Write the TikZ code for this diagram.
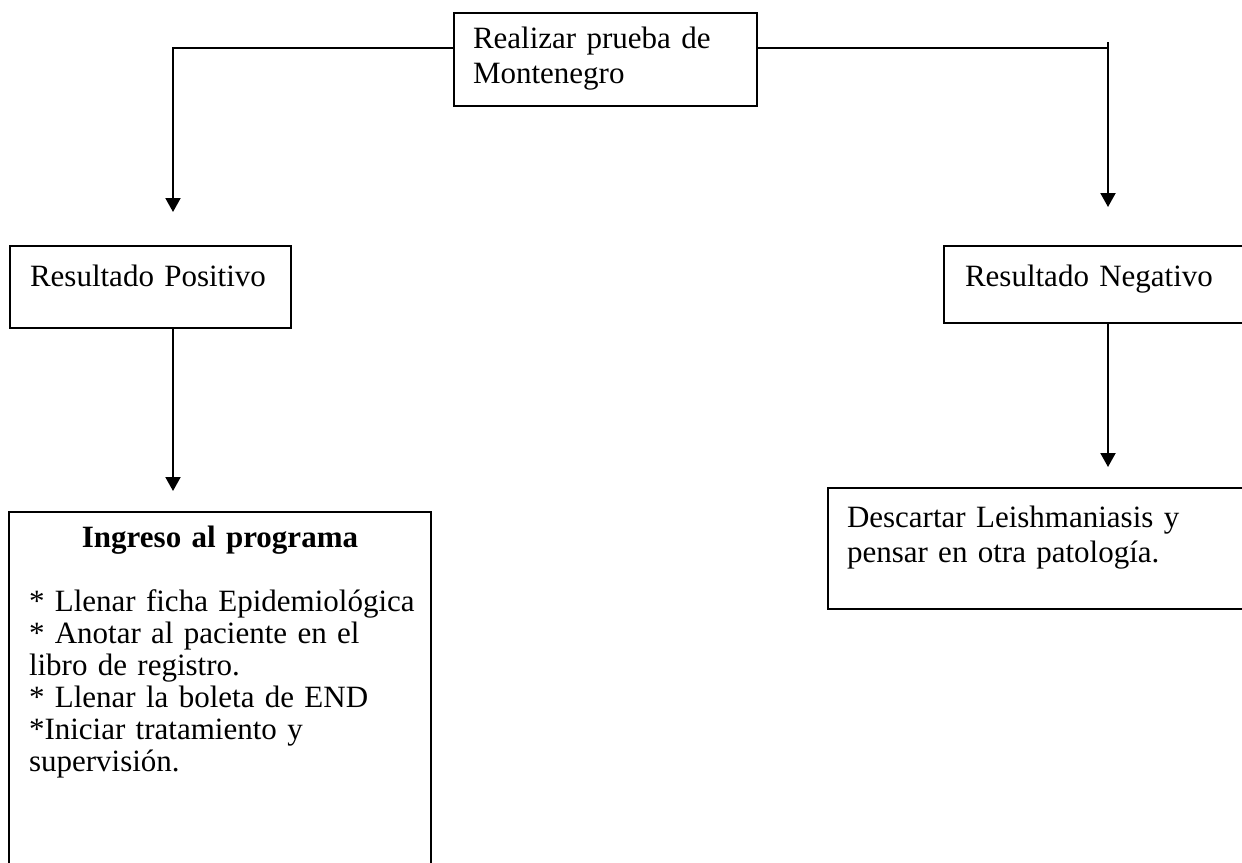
\documentclass[tikz,border=0pt]{standalone}
\usepackage{fontspec}
\setmainfont{Liberation Serif}
\usetikzlibrary{arrows.meta}
\tikzset{
  caja/.style={draw, line width=1.2pt, anchor=north west, align=left, inner ysep=0pt, outer sep=0pt, font=\fontsize{15.5}{17.5}\selectfont},
  flecha/.style={line width=1pt, -{Triangle[width=7.5pt,length=7pt]}}
}
\begin{document}
\begin{tikzpicture}[x=0.5pt,y=-0.5pt]
\useasboundingbox (0,0) rectangle (1242,862);
\clip (0,0) rectangle (1242,862);

\node[caja, inner xsep=9.5pt, text width=132.5pt, text height=17.5pt, text depth=29pt] (prueba) at (454,13) {Realizar prueba de\\Montenegro};
\node[caja, inner xsep=10pt, text width=120.5pt, text height=20pt, text depth=21pt] (positivo) at (10,246) {Resultado Positivo};
\node[caja, inner xsep=10.5pt, text width=179pt, text height=20pt, text depth=18.5pt] (negativo) at (944,246) {Resultado Negativo};
\node[caja, inner xsep=10pt, text width=191pt, text height=17.5pt, text depth=200pt, font=\fontsize{15.5}{16}\selectfont] (ingreso) at (9,512)
  {\makebox[\linewidth]{\bfseries Ingreso al programa}\\[16pt]
   \makebox[\linewidth][l]{* Llenar ficha Epidemiológica}\\{}
   * Anotar al paciente en el\\
   libro de registro.\\{}
   * Llenar la boleta de END\\{}
   *Iniciar tratamiento y\\
   supervisión.};
\node[caja, inner xsep=9.5pt, text width=230pt, text height=19.5pt, text depth=41pt] (descartar) at (828,488) {Descartar Leishmaniasis y\\pensar en otra patología.};

\coordinate (codoI) at (173,48);
\coordinate (puntaI) at (173,212);
\coordinate (codoD) at (1108,42);
\coordinate (puntaD) at (1108,207);
\coordinate (puntaII) at (173,491);
\coordinate (puntaDD) at (1108,467);

\draw[flecha] (prueba.west |- codoI) -- (codoI) -- (puntaI);
\draw[line width=1pt] (prueba.east |- codoI) -- (codoI -| codoD);
\draw[flecha] (codoD) -- (puntaD);
\draw[flecha] (positivo.south -| puntaII) -- (puntaII);
\draw[flecha] (negativo.south -| puntaDD) -- (puntaDD);
\end{tikzpicture}
\end{document}
